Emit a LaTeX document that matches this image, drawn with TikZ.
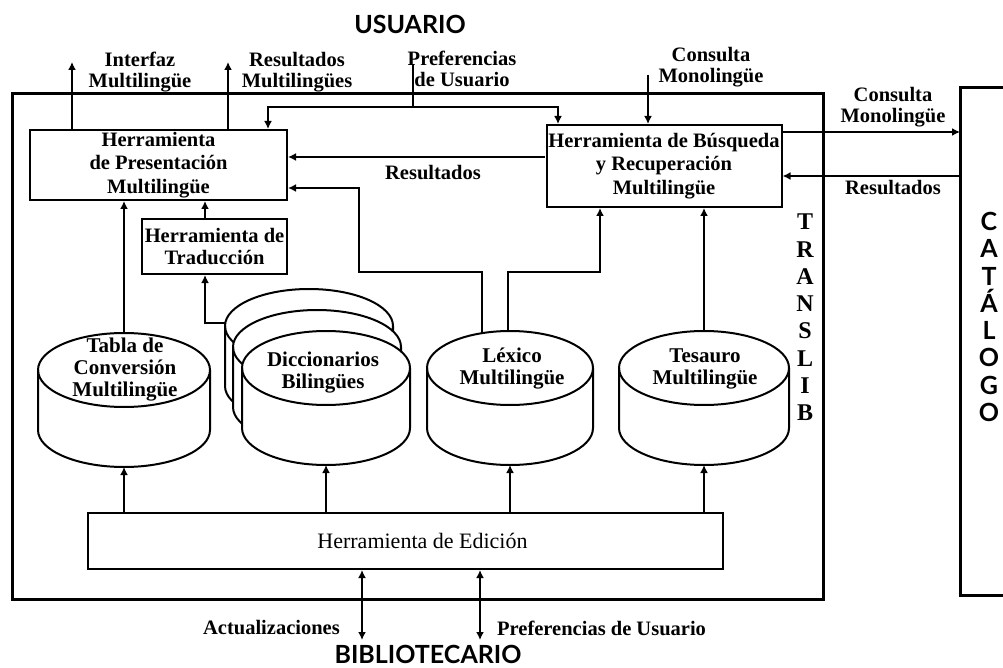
\documentclass[tikz,border=0pt]{standalone}
\usepackage{fontspec}
\setmainfont{Liberation Serif}
\newfontfamily\headfont{Lato}
\usetikzlibrary{arrows.meta,calc}
\newcommand\drum[4]{%
  \draw[shapeline, fill=white] ({#1-#3},#2) -- ({#1-#3},{#2+60})
     arc[start angle=180,end angle=360,x radius=#3pt,y radius=37pt]
     -- ({#1+#3},#2)
     arc[start angle=0,end angle=180,x radius=#3pt,y radius=37pt] -- cycle;
  \draw[shapeline] ({#1-#3},#2) arc[start angle=180,end angle=360,x radius=#3pt,y radius=37pt];
  \coordinate (#4-top) at (#1,{#2-37});
  \coordinate (#4-bot) at (#1,{#2+97});
}
\begin{document}
\begin{tikzpicture}[x=1pt,y=-1pt,
  lbl/.style={font=\bfseries\fontsize{20.5}{20.5}\selectfont, align=center, inner sep=0pt},
  cyltxt/.style={font=\bfseries\fontsize{21}{22}\selectfont, align=center, inner sep=0pt},
  box/.style={draw, line width=2pt, rectangle, inner sep=0pt, align=center,
     font=\bfseries\fontsize{20.5}{23.5}\selectfont},
  shapeline/.style={line width=2pt},
  outerline/.style={line width=3pt},
  conn/.style={line width=2.6pt, -{Latex[length=8pt,width=8pt]}},
  dconn/.style={line width=2.6pt, {Latex[length=8pt,width=8pt]}-{Latex[length=8pt,width=8pt]}},
  head/.style={font=\headfont\bfseries\fontsize{25}{27}\selectfont, inner sep=0pt},
  vert/.style={align=center, inner sep=0pt}
]
\useasboundingbox (0,0) rectangle (1003,668);

% outer TRANSLIB frame and catalogue frame
\draw[outerline] (12,94) rectangle (823,599);
\draw[outerline] (1003,88) -- (960,88) -- (960,595) -- (1003,595);

% boxes
\node[box, minimum width=257pt, minimum height=70pt] (pres) at (158.5,165)
  {Herramienta\\de Presentación\\Multilingüe};
\node[box, minimum width=235pt, minimum height=82pt] (busq) at (664,166)
  {Herramienta de Búsqueda\\y Recuperación\\Multilingüe};
\node[box, minimum width=145pt, minimum height=55pt, font=\bfseries\fontsize{20.5}{22}\selectfont] (trad) at (214.5,246.5)
  {Herramienta de\\Traducción};
\node[box, minimum width=635pt, minimum height=56pt, font=\fontsize{22}{22}\selectfont] (edic) at (405.5,541)
  {\hspace*{34pt}Herramienta de Edición};

% cylinders
\drum{124}{370}{86}{tabla}
\drum{309}{326}{84}{dback}
\drum{317}{347}{84}{dmid}
\drum{326}{368}{84}{dicc}
\drum{510}{368}{83}{lex}
\drum{704}{368}{85}{tes}

\node[cyltxt] (ttabla) at (125,370) {Tabla de\\Conversión\\Multilingüe};
\node[cyltxt] (tdicc) at (323,373) {Diccionarios\\Bilingües};
\node[cyltxt] (tlex) at (512,369) {Léxico\\Multilingüe};
\node[cyltxt] (ttes) at (705,369) {Tesauro\\Multilingüe};

% coordinates
\coordinate (if) at (72,62);
\coordinate (rm) at (228,62);
\coordinate (pref) at (413,64);
\coordinate (pk) at (268,107);
\coordinate (qk) at (558,107);
\coordinate (cons) at (648,75);
\coordinate (r1) at (545,157);
\coordinate (r2) at (359,272);
\coordinate (c1) at (960,132);
\coordinate (c2) at (960,176);
\coordinate (tr) at (205,0);
\coordinate (dictin) at (226,323);
\coordinate (lexL) at (482,333);
\coordinate (lexR) at (508,331);
\coordinate (bq1) at (600,272);
\coordinate (act) at (362,640);
\coordinate (prb) at (480,640);

% top connectors
\draw[conn] (pres.north -| if) -- (if);
\draw[conn] (pres.north -| rm) -- (rm);
\draw[conn] (pref) |- (pk) -- (pk |- pres.north);
\draw[conn] (pref) |- (qk) -- (qk |- busq.north);
\draw[conn] (cons) -- (cons |- busq.north);

% search <-> presentation / catalogue
\draw[conn] (r1) -- (pres.east |- r1);
\draw[conn] (busq.east |- c1) -- (c1);
\draw[conn] (c2) -- (busq.east |- c2);

% databases -> tools
\draw[conn] (tabla-top) -- (tabla-top |- pres.south);
\draw[conn] (tr |- trad.north) -- (tr |- pres.south);
\draw[conn] (dictin) -| (tr |- trad.south);
\draw[conn] (lexL) |- (r2) |- ($(pres.east)+(0,23)$);
\draw[conn] (lexR) |- (bq1) -- (bq1 |- busq.south);
\draw[conn] (tes-top) -- (tes-top |- busq.south);

% edition -> databases
\draw[conn] (edic.north -| tabla-bot) -- (tabla-bot);
\draw[conn] (edic.north -| dicc-bot) -- (dicc-bot);
\draw[conn] (edic.north -| lex-bot) -- (lex-bot);
\draw[conn] (edic.north -| tes-bot) -- (tes-bot);

% librarian
\draw[dconn] (act |- edic.south) -- (act);
\draw[dconn] (prb |- edic.south) -- (prb);

% labels
\node[head] (usuario) at (410,24) {USUARIO};
\node[head] (biblio) at (428,654) {BIBLIOTECARIO};
\node[lbl] (lif) at (140,72) {Interfaz\\Multilingüe};
\node[lbl] (lrm) at (297,72) {Resultados\\Multilingües};
\node[lbl] (lpref) at (462,69) {Preferencias\\de Usuario};
\node[lbl] (lcons) at (711,67) {Consulta\\Monolingüe};
\node[lbl] (lcons2) at (893,107) {Consulta\\Monolingüe};
\node[lbl] (lres2) at (893,188) {Resultados};
\node[lbl] (lres1) at (433,173) {Resultados};
\node[lbl, anchor=east] (lact) at (340,628) {Actualizaciones};
\node[lbl, anchor=west] (lprb) at (497,628) {Preferencias de Usuario};

\node[vert, font=\bfseries\fontsize{24}{27.3}\selectfont] (translib) at (805,317.5)
  {T\\R\\A\\N\\S\\L\\I\\B};
\node[vert, font=\headfont\bfseries\fontsize{25}{27.3}\selectfont] (catalogo) at (989,317)
  {C\\A\\T\\Á\\L\\O\\G\\O};
\end{tikzpicture}
\end{document}
